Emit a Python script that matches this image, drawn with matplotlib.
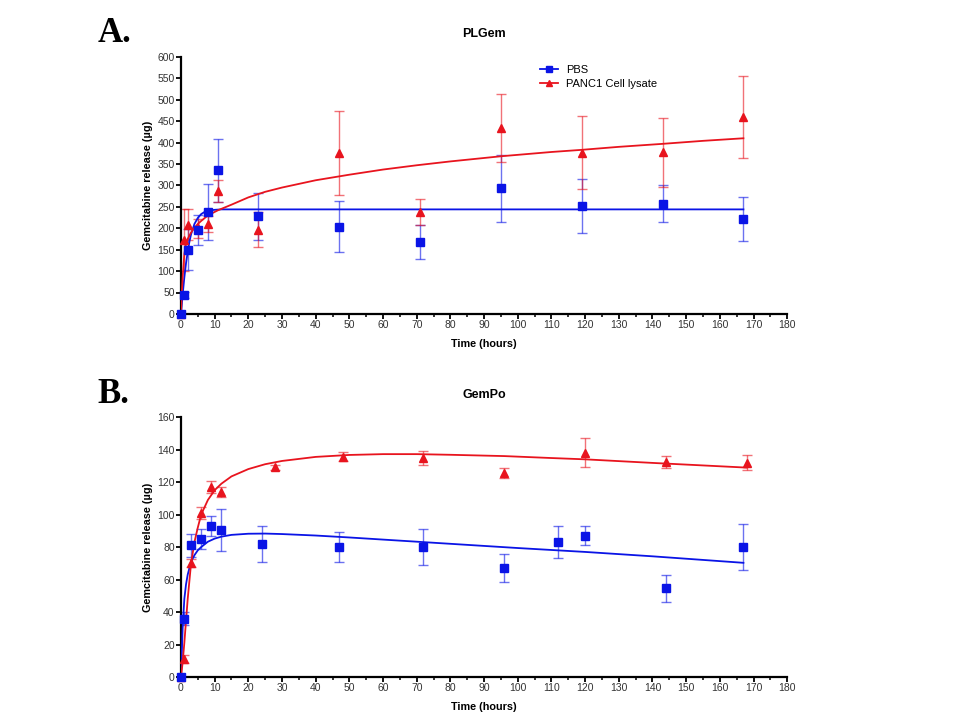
import matplotlib
matplotlib.use('Agg')
import matplotlib.pyplot as plt
from matplotlib.ticker import MultipleLocator

plt.rcParams['font.family'] = ['Liberation Sans', 'DejaVu Sans']

# ---- Panel A: PLGem ----
a_pbs_t = [0, 1, 2, 5, 8, 11, 23, 47, 71, 95, 119, 143, 167]
a_pbs_y = [0, 44, 150, 197, 238, 335, 228, 204, 168, 293, 252, 257, 221]
a_pbs_err = [0, 8, 48, 35, 66, 73, 55, 59, 40, 78, 62, 43, 51]

a_cell_t = [0, 1, 2, 5, 8, 11, 23, 47, 71, 95, 119, 143, 167]
a_cell_y = [0, 172, 208, 200, 210, 287, 197, 376, 238, 434, 376, 377, 460]
a_cell_err = [0, 72, 36, 22, 18, 25, 40, 98, 31, 80, 85, 81, 95]

# fitted curves
a_pbs_fit_t = [0, 0.5, 1, 1.5, 2, 2.5, 3, 4, 5, 6, 7, 8, 10, 12, 15, 167]
a_pbs_fit_y = [0, 45, 85, 118, 145, 168, 186, 210, 224, 233, 238, 241, 243, 244, 244, 244]
a_cell_fit_t = [0, 0.25, 0.5, 1, 1.5, 2, 3, 4, 5, 6, 8, 11, 15, 20, 25, 30, 40,
                50, 60, 70, 80, 95, 110, 119, 130, 143, 155, 167]
a_cell_fit_y = [0, 50, 85, 140, 162, 175, 190, 201, 210, 217, 230, 242, 255, 272,
                285, 295, 312, 325, 337, 347, 356, 368, 378, 383, 390, 397, 404, 410]

# ---- Panel B: GemPo ----
b_pbs_t = [0, 1, 3, 6, 9, 12, 24, 47, 72, 96, 112, 120, 144, 167]
b_pbs_y = [0, 36, 81, 85, 93, 90.5, 82, 80, 80, 67, 83, 87, 54.5, 80]
b_pbs_err = [0, 4, 7, 6, 6, 13, 11, 9, 11, 8.7, 10, 6, 8.5, 14]

b_cell_t = [0, 1, 3, 6, 9, 12, 28, 48, 72, 96, 120, 144, 168]
b_cell_y = [0, 11, 70, 101, 117, 114, 129, 135.7, 135, 125.6, 138, 132.2, 131.8]
b_cell_err = [0, 2.5, 2.5, 3.5, 3.5, 3, 1.5, 3, 4.4, 3.2, 8.9, 3.7, 4.6]

b_pbs_fit_t = [0, 0.5, 1, 1.5, 2, 3, 4, 5, 6, 8, 10, 12, 15, 20, 25, 30, 40,
               50, 60, 80, 100, 120, 140, 167]
b_pbs_fit_y = [0, 30, 48, 57, 63, 71, 75, 78, 80, 83.3, 85.2, 86.4, 87.5, 88.2,
               88.3, 88.0, 87.1, 85.9, 84.6, 82.0, 79.4, 77.0, 74.3, 70.3]
b_cell_fit_t = [0, 0.5, 1, 2, 3, 4, 5, 6, 8, 10, 12, 15, 20, 25, 30, 40, 50,
                60, 70, 80, 96, 110, 120, 140, 168]
b_cell_fit_y = [0, 9, 21, 48, 70, 83, 92, 100, 109, 115, 119, 123.5, 128, 131,
                133, 135.5, 136.7, 137.2, 137.2, 136.8, 136, 134.8, 134, 131.8, 128.9]

BLUE = '#0a14e6'
RED = '#e8141e'


def style_axes(ax, ymax, ystep):
    for s in ['top', 'right']:
        ax.spines[s].set_visible(False)
    for s in ['left', 'bottom']:
        ax.spines[s].set_linewidth(1.6)
    ax.set_xlim(0, 180)
    ax.set_ylim(0, ymax)
    ax.xaxis.set_major_locator(MultipleLocator(10))
    ax.xaxis.set_minor_locator(MultipleLocator(5))
    ax.yaxis.set_major_locator(MultipleLocator(ystep))
    ax.tick_params(which='major', direction='out', length=3.5, width=1.3,
                   labelsize=7.5, labelcolor='#333333', pad=1)
    ax.tick_params(which='minor', direction='out', length=2.5, width=1.1)
    ax.set_xlabel('Time (hours)', fontsize=7.8, fontweight='bold', labelpad=6)
    ax.set_ylabel('Gemcitabine release (\u00b5g)', fontsize=7.8,
                  fontweight='bold')
    ax.yaxis.set_label_coords(-0.046, 0.5)


def draw(ax, t, y, err, ft, fy, color, marker, ms, label, z):
    ax.errorbar(t, y, yerr=err, fmt='none', ecolor=color, alpha=0.6,
                elinewidth=1.0, capsize=3.5, capthick=1.0, zorder=2)
    ax.plot(ft, fy, color=color, lw=1.3, zorder=3)
    ax.plot(t, y, linestyle='none', marker=marker, ms=ms, color=color,
            zorder=z, clip_on=False)
    ax.plot([], [], color=color, lw=1.3, marker=marker, ms=ms - 1.5,
            label=label)


fig = plt.figure(figsize=(9.6, 7.2), dpi=100)
ax1 = fig.add_axes([0.1885, 0.564, 0.6315, 0.357])
ax2 = fig.add_axes([0.1885, 0.0597, 0.6315, 0.361])

draw(ax1, a_pbs_t, a_pbs_y, a_pbs_err, a_pbs_fit_t, a_pbs_fit_y,
     BLUE, 's', 6.3, 'PBS', 5)
draw(ax1, a_cell_t, a_cell_y, a_cell_err, a_cell_fit_t, a_cell_fit_y,
     RED, '^', 6.3, 'PANC1 Cell lysate', 4)
style_axes(ax1, 600, 50)
ax1.set_title('PLGem', fontsize=9, fontweight='bold', pad=14)
ax1.legend(loc='upper left', bbox_to_anchor=(0.58, 1.0), frameon=False,
           fontsize=8, handlelength=1.6, handletextpad=0.7,
           labelspacing=0.35, borderaxespad=0.3)

draw(ax2, b_pbs_t, b_pbs_y, b_pbs_err, b_pbs_fit_t, b_pbs_fit_y,
     BLUE, 's', 6.3, 'PBS', 5)
draw(ax2, b_cell_t, b_cell_y, b_cell_err, b_cell_fit_t, b_cell_fit_y,
     RED, '^', 6.3, 'PANC1 Cell lysate', 4)
style_axes(ax2, 160, 20)
ax2.set_title('GemPo', fontsize=9, fontweight='bold', pad=14)

fig.text(0.102, 0.942, 'A.', fontsize=25, fontweight='bold',
         family='Liberation Serif', va='baseline')
fig.text(0.102, 0.44, 'B.', fontsize=25, fontweight='bold',
         family='Liberation Serif', va='baseline')

fig.savefig('out.png', dpi=100)
